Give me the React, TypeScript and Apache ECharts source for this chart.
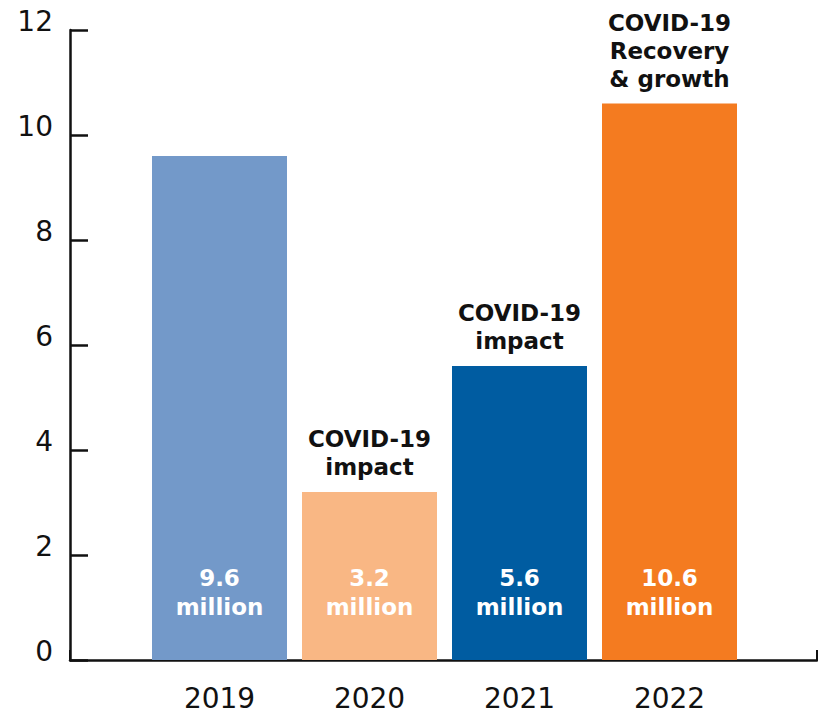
import React, { useEffect, useRef } from "react";
import * as echarts from "echarts";

const years = ["2019", "2020", "2021", "2022"];
const visitors = [9.6, 3.2, 5.6, 10.6];
const valueLabels = ["9.6\nmillion", "3.2\nmillion", "5.6\nmillion", "10.6\nmillion"];
const annotations = ["", "COVID-19\nimpact", "COVID-19\nimpact", "COVID-19\nRecovery\n& growth"];
const barColors = ["#7399c9", "#f9b784", "#005ca1", "#f47b20"];
const yTicks = [0, 2, 4, 6, 8, 10, 12];

const FONT = "'DejaVu Sans', 'Open Sans', sans-serif";

export default function App() {
  const ref = useRef<HTMLDivElement>(null);
  useEffect(() => {
    if (!ref.current) return;
    const chart = echarts.init(ref.current, undefined, { renderer: "svg" });
    chart.setOption({
      animation: false,
      backgroundColor: "#ffffff",
      grid: [
        { left: 70, right: 1, top: 30, bottom: 54 },
        { left: 144.5, right: 73.5, top: 30, bottom: 54 },
      ],
      xAxis: [
        {
          type: "value",
          gridIndex: 0,
          min: 0,
          max: 1,
          interval: 1,
          axisLine: { show: true, onZero: false, lineStyle: { color: "#111", width: 2.5 } },
          axisTick: { show: true, inside: true, length: 10, lineStyle: { color: "#111", width: 2 } },
          axisLabel: { show: false },
          splitLine: { show: false },
        },
        {
          type: "category",
          gridIndex: 1,
          data: years,
          axisLine: { show: false },
          axisTick: { show: false },
          axisLabel: {
            color: "#111",
            fontSize: 28,
            fontFamily: FONT,
            margin: 24,
          },
        },
      ],
      yAxis: [
        {
          type: "value",
          gridIndex: 0,
          min: 0,
          max: yTicks[yTicks.length - 1],
          interval: 2,
          axisLine: { show: true, lineStyle: { color: "#111", width: 2.5 } },
          axisTick: { show: true, inside: true, length: 18, lineStyle: { color: "#111", width: 2.5 } },
          axisLabel: {
            color: "#111",
            fontSize: 28,
            fontFamily: FONT,
            margin: 17,
            verticalAlign: "bottom",
            lineHeight: 18,
          },
          splitLine: { show: false },
        },
        {
          type: "value",
          gridIndex: 1,
          min: 0,
          max: yTicks[yTicks.length - 1],
          interval: 2,
          show: false,
        },
      ],
      series: [
        {
          type: "bar",
          xAxisIndex: 1,
          yAxisIndex: 1,
          barWidth: 135,
          barGap: "-100%",
          z: 2,
          data: visitors.map((v, i) => ({ value: v, itemStyle: { color: barColors[i] } })),
          label: {
            show: true,
            position: "insideBottom",
            distance: 39,
            formatter: (p: any) => valueLabels[p.dataIndex],
            color: "#ffffff",
            fontSize: 23,
            fontWeight: "bold",
            fontFamily: FONT,
            lineHeight: 29,
          },
        },
        {
          type: "bar",
          xAxisIndex: 1,
          yAxisIndex: 1,
          barWidth: 135,
          barGap: "-100%",
          z: 1,
          data: visitors,
          itemStyle: { color: "rgba(0,0,0,0)" },
          label: {
            show: true,
            position: "top",
            distance: 11,
            formatter: (p: any) => annotations[p.dataIndex],
            color: "#111",
            fontSize: 23,
            fontWeight: "bold",
            fontFamily: FONT,
            lineHeight: 28,
          },
        },
      ],
    });
    return () => chart.dispose();
  }, []);
  return (
    <div
      ref={ref}
      style={{ position: "absolute", left: 0, top: 0, width: 818, height: 714 }}
    />
  );
}
